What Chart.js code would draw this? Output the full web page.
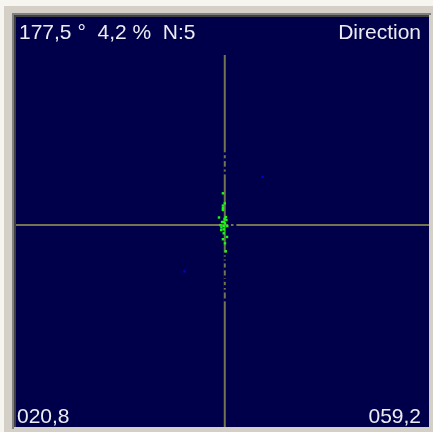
<!DOCTYPE html>
<html>
<head>
<meta charset="utf-8">
<script src="https://cdn.jsdelivr.net/npm/chart.js@4.4.1/dist/chart.umd.min.js"></script>
<style>
  html, body { margin: 0; padding: 0; background: #f6f5f0; }
  .panel { position: absolute; left: 4px; top: 6px; width: 429px; height: 426px; background: #d4d0c8; }
  #directionChart { position: absolute; left: 0; top: 0; }
</style>
</head>
<body>
<div class="panel"></div>
<canvas id="directionChart" width="433" height="432"></canvas>
<script>
// readings shown in the corners
const headerText = "177,5 °  4,2 %  N:5";
const titleText = "Direction";
const minLabel = "020,8";
const maxLabel = "059,2";

// crosshair position (same units as the points)
const crossX = 1.1;
const crossY = -1.5;
const crossTop = 81.5;

// green hits
const hitX = [0.2, 1.1, 0.2, 0.2, 0.2, -1.7, 1.6, 1.9, 0.6, 1.2, -1.0, -0.5, 0.6, -0.6, 0.6, 2.3, 0.6, 2.2, 0.2, 1.2, 1.6, -0.2, 1.0];
const hitY = [14.0, 9.1, 8.0, 6.8, 5.9, 2.2, 2.4, 1.0, 0.1, -0.7, -1.5, -2.6, -2.0, -3.9, -3.6, -2.0, -5.5, -7.3, -8.4, -10.4, -14.3, 0.0, 1.5];

// blue (older) hits
const oldX = [19.4, -18.4];
const oldY = [22.0, -24.1];

// dark hits sitting on the crosshair
const darkX = [1.1, 1.1, 1.1, 1.1, 1.1, 1.1, 1.1, 1.1, 1.1, 1.1, 1.1, 1.1, 1.1, 3.4, 6.0];
const darkY = [33.3, 30.4, 26.3, 23.9, -15.6, -17.6, -19.5, -22.9, -26.8, -28.5, -31.5, -33.7, -38.0, -1.5, -1.5];

const toPoints = (xs, ys) => xs.map((x, i) => ({ x, y: ys[i] }));

const NAVY = "#00004a";
const LINE = "#74744e";
const TEXT = "#ececf2";

const framePlugin = {
  id: "frame",
  beforeDraw(chart) {
    const { ctx, chartArea: a } = chart;
    ctx.save();
    // sunken bevel
    ctx.fillStyle = "#808080";
    ctx.fillRect(a.left - 4, a.top - 4, a.right - a.left + 6, 2);
    ctx.fillRect(a.left - 4, a.top - 4, 2, a.bottom - a.top + 6);
    ctx.fillStyle = "#404040";
    ctx.fillRect(a.left - 2, a.top - 2, a.right - a.left + 2, 2);
    ctx.fillRect(a.left - 2, a.top - 2, 2, a.bottom - a.top + 2);
    ctx.fillStyle = NAVY;
    ctx.fillRect(a.left, a.top, a.right - a.left, a.bottom - a.top);
    ctx.restore();
  },
  afterDraw(chart) {
    const { ctx, chartArea: a } = chart;
    ctx.save();
    ctx.fillStyle = TEXT;
    ctx.font = '21px "Liberation Sans", Arial, sans-serif';
    ctx.textBaseline = "alphabetic";
    ctx.textAlign = "left";
    ctx.fillText(headerText, a.left + 3, a.top + 22);
    ctx.fillText(minLabel, a.left + 1, a.bottom - 4);
    ctx.textAlign = "right";
    ctx.fillText(titleText, a.right - 8, a.top + 22);
    ctx.fillText(maxLabel, a.right - 8, a.bottom - 4);
    ctx.restore();
  },
};

new Chart(document.getElementById("directionChart"), {
  type: "scatter",
  data: {
    datasets: [
      {
        label: "hits",
        data: toPoints(hitX, hitY),
        pointStyle: "rect",
        pointRadius: 1.7,
        backgroundColor: "#10ff10",
        borderWidth: 0,
        order: 1,
      },
      {
        label: "old",
        data: toPoints(oldX, oldY),
        pointStyle: "rect",
        pointRadius: 1.6,
        backgroundColor: "#0000d8",
        borderWidth: 0,
        order: 2,
      },
      {
        label: "dark",
        data: toPoints(darkX, darkY),
        pointStyle: "rect",
        pointRadius: 2,
        backgroundColor: NAVY,
        borderWidth: 0,
        order: 3,
      },
      {
        label: "vertical",
        data: [{ x: crossX, y: -100 }, { x: crossX, y: crossTop }],
        showLine: true,
        borderColor: LINE,
        borderWidth: 2,
        pointRadius: 0,
        order: 4,
      },
      {
        label: "horizontal",
        data: [{ x: -100, y: crossY }, { x: 100, y: crossY }],
        showLine: true,
        borderColor: LINE,
        borderWidth: 2,
        pointRadius: 0,
        order: 4,
      },
    ],
  },
  options: {
    responsive: false,
    animation: false,
    layout: { padding: { left: 16, top: 17, right: 3, bottom: 5 } },
    plugins: {
      legend: { display: false },
      tooltip: { enabled: false },
    },
    scales: {
      x: { type: "linear", min: -100, max: 100, display: false },
      y: { type: "linear", min: -100, max: 100, display: false },
    },
  },
  plugins: [framePlugin],
});
</script>
</body>
</html>
